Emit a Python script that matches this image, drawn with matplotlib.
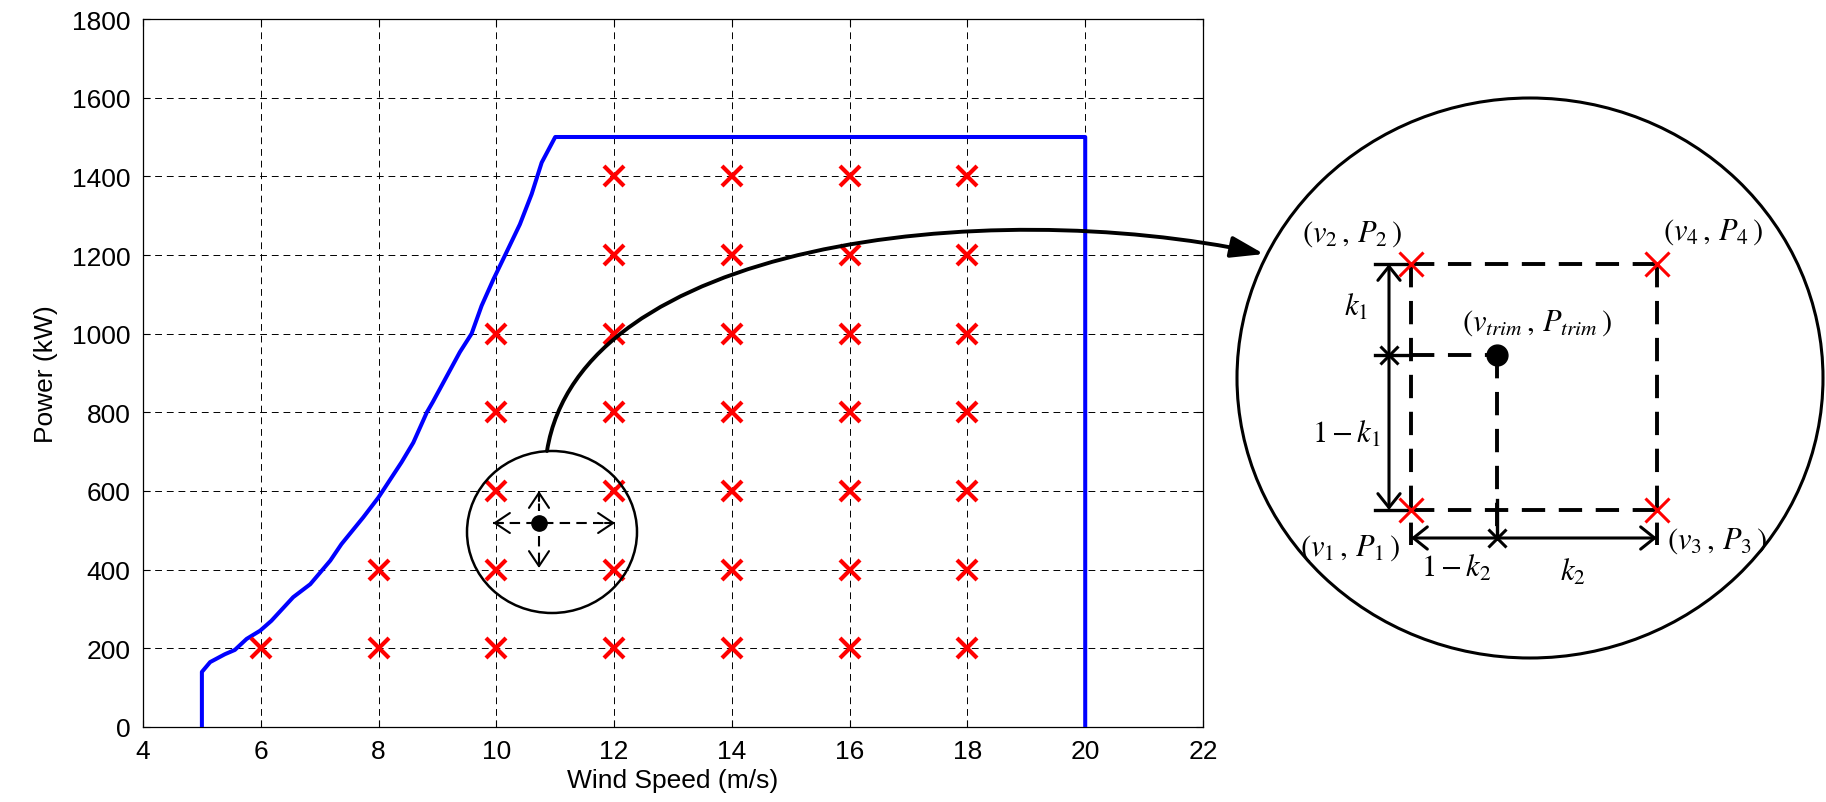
import numpy as np
import matplotlib
matplotlib.use("Agg")
import matplotlib.pyplot as plt
from matplotlib.patches import Ellipse, FancyArrowPatch
from matplotlib.path import Path

plt.rcParams["font.family"] = ["Liberation Sans", "DejaVu Sans"]
plt.rcParams["mathtext.fontset"] = "stix"

# Courbe de puissance de l'éolienne
wind = [5, 5, 5.14, 5.39, 5.56, 5.76, 5.99, 6.18, 6.55, 6.84, 7.18, 7.37, 7.74, 8.0,
        8.39, 8.59, 8.82, 8.92, 9.38, 9.58, 9.75, 9.95, 10.15, 10.4, 10.6, 10.77, 11.0,
        20, 20]
power = [0, 140, 165, 185, 196, 224, 245, 270, 330, 363, 423, 465, 533, 584,
         673, 723, 800, 826, 953, 1000, 1071, 1138, 1200, 1278, 1355, 1435, 1500,
         1500, 0]

# Points de trim (grille)
trim_v = [6, 8, 8, 10, 10, 10, 10, 10] + [v for v in (12, 14, 16, 18) for _ in range(7)]
trim_p = [200, 200, 400, 200, 400, 600, 800, 1000] + [200, 400, 600, 800, 1000, 1200, 1400] * 4

xticks = np.arange(4, 23, 2)
yticks = np.arange(0, 1801, 200)

W, H = 1826, 803
fig = plt.figure(figsize=(W / 100, H / 100), dpi=100)
ax = fig.add_axes([143 / W, 1 - 728 / H, (1203 - 143) / W, (728 - 20) / H])

ax.plot(wind, power, color="#0000ff", lw=2.9, zorder=3)
ax.plot(trim_v, trim_p, "x", color="#ff0000", ms=15, mew=3.0, zorder=4)

ax.set_xlim(4, 22)
ax.set_ylim(0, 1800)
ax.set_xticks(xticks)
ax.set_yticks(yticks)
ax.grid(True, color="k", linestyle=(0, (7, 5)), lw=0.7)
ax.tick_params(direction="in", top=True, right=True, length=5, width=0.8,
               labelsize=19, pad=9)
for s in ax.spines.values():
    s.set_linewidth(0.9)
ax.set_xlabel("Wind Speed (m/s)", fontsize=19, labelpad=3)
ax.set_ylabel("Power (kW)", fontsize=19, labelpad=10)

# Calque en pixels pour le schéma
ov = fig.add_axes([0, 0, 1, 1], zorder=5)
ov.set_xlim(0, W)
ov.set_ylim(H, 0)
ov.axis("off")

# Petit cercle
ov.add_patch(Ellipse((552, 533), 170, 162, fill=False, ec="k", lw=1.8))
cx, cy = 539, 524
ov.plot([493, 615], [cy, cy], color="k", lw=1.5, linestyle=(0, (5, 3)))
ov.plot([cx, cx], [492, 512], color="k", lw=1.5, linestyle=(0, (4, 2)))
ov.plot([cx, cx], [537, 569], color="k", lw=1.5, linestyle=(0, (5, 3)))
ov.plot([cx], [cy], "o", color="k", ms=11)
hs = dict(arrowstyle="->,head_length=0.45,head_width=0.3", color="k", lw=1.5,
          mutation_scale=24, shrinkA=0, shrinkB=0)
for end, start in [((493, cy), (503, cy)), ((615, cy), (605, cy)),
                   ((cx, 492), (cx, 502)), ((cx, 569), (cx, 559))]:
    ov.add_patch(FancyArrowPatch(start, end, **hs))

# Flèche courbe vers le grand cercle
verts = [(547, 452), (580, 245), (980, 195), (1264, 255)]
path = Path(verts, [Path.MOVETO, Path.CURVE4, Path.CURVE4, Path.CURVE4])
ov.add_patch(FancyArrowPatch(path=path, arrowstyle="-|>,head_length=20,head_width=6.5",
                             mutation_scale=1, color="k", lw=2.8))

# Grand cercle
ov.add_patch(Ellipse((1530, 379), 586, 560, fill=False, ec="k", lw=2.2))

x1, x2, y1, y2 = 1411, 1657, 265, 511
xa, ya = 1389, 539
xt, yt = 1497, 356
dl = dict(color="k", lw=2.8, linestyle=(0, (6, 3.5)))
sl = dict(color="k", lw=2.4)
ov.plot([x1, x2], [y1, y1], **dl)
ov.plot([x1, x2], [y2, y2], **dl)
ov.plot([x1, x1], [y1, 546], **dl)
ov.plot([x2, x2], [y1, 546], **dl)
ov.plot([x1, xt], [yt, yt], **dl)
ov.plot([xt, xt], [yt, ya], **dl)
ov.plot([1375, x1], [y1, y1], **sl)
ov.plot([1375, x1], [y2, y2], **sl)
ov.plot([1375, x1], [yt, yt], **sl)
ov.plot([xt, xt], [y2 - 10, ya], **sl)

ar = dict(arrowstyle="<->,head_length=0.5,head_width=0.4", mutation_scale=20,
          color="k", lw=2.2, shrinkA=0, shrinkB=0)
ov.add_patch(FancyArrowPatch((xa, y1), (xa, y2), **ar))
ov.add_patch(FancyArrowPatch((x1, ya), (x2, ya), **ar))
ov.plot([xa, xt], [yt, ya], "x", color="k", ms=13, mew=2.2)
ov.plot([xt], [yt], "o", color="k", ms=15)
ov.plot([x1, x2, x1, x2], [y1, y1, y2, y2], "x", color="#ff0000", ms=17, mew=2.2)

tk = dict(fontsize=22, ha="center", va="center")
ov.text(1352, 234, r"$(v_2\,,\,P_2\,)$", **tk)
ov.text(1713, 232, r"$(v_4\,,\,P_4\,)$", **tk)
ov.text(1537, 323, r"$(v_{trim}\,,\,P_{trim}\,)$", **tk)
ov.text(1356, 308, r"$k_1$", **tk)
ov.text(1346, 435, r"$1-k_1$", **tk)
ov.text(1350, 548, r"$(v_1\,,\,P_1\,)$", **tk)
ov.text(1717, 541, r"$(v_3\,,\,P_3\,)$", **tk)
ov.text(1456, 569, r"$1-k_2$", **tk)
ov.text(1573, 573, r"$k_2$", **tk)

fig.savefig("out.png", dpi=100)
